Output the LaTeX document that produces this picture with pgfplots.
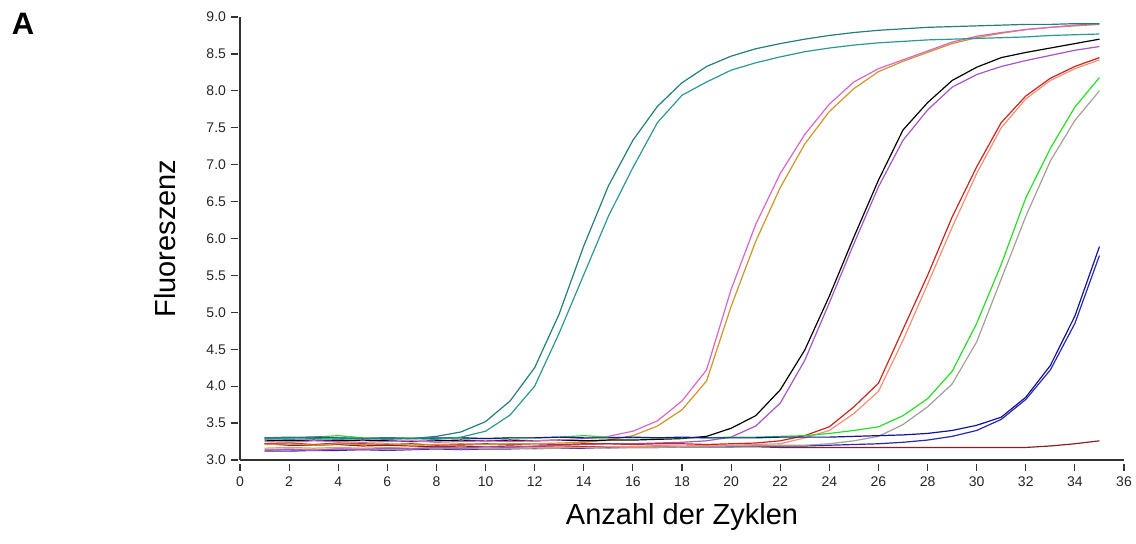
\documentclass[border=0pt]{standalone}
\usepackage{fontspec}
\setmainfont{Liberation Sans}
\usepackage{pgfplots}
\usepackage{pgfplotstable}
\pgfplotsset{compat=1.18}
\definecolor{tealA}{RGB}{38,125,125}
\definecolor{tealB}{RGB}{45,150,150}
\definecolor{pinkC}{RGB}{220,100,200}
\definecolor{orangeC}{RGB}{205,150,40}
\definecolor{purpleC}{RGB}{165,85,200}
\definecolor{redC}{RGB}{205,35,30}
\definecolor{salmonC}{RGB}{240,145,120}
\definecolor{greenC}{RGB}{40,220,40}
\definecolor{grayC}{RGB}{165,160,150}
\definecolor{navyC}{RGB}{20,20,150}
\definecolor{blueC}{RGB}{40,40,175}
\definecolor{maroonC}{RGB}{130,35,35}
\pgfplotstableread{
c  T1   T2   P    O    K    Pu   R    S    G    Gy   B1   B2   M
1  3.30 3.29 3.25 3.21 3.27 3.13 3.22 3.16 3.29 3.14 3.30 3.12 3.22
2  3.31 3.28 3.24 3.22 3.26 3.14 3.23 3.17 3.30 3.15 3.30 3.12 3.20
3  3.30 3.29 3.26 3.20 3.27 3.13 3.21 3.16 3.31 3.14 3.31 3.13 3.20
4  3.30 3.28 3.25 3.22 3.26 3.15 3.23 3.17 3.33 3.15 3.30 3.13 3.21
5  3.29 3.29 3.24 3.21 3.27 3.14 3.22 3.16 3.30 3.15 3.29 3.14 3.19
6  3.30 3.28 3.25 3.22 3.26 3.16 3.21 3.17 3.29 3.14 3.30 3.13 3.20
7  3.29 3.29 3.26 3.20 3.25 3.15 3.22 3.16 3.30 3.15 3.29 3.14 3.19
8  3.32 3.28 3.24 3.21 3.26 3.17 3.20 3.17 3.29 3.16 3.30 3.15 3.18
9  3.38 3.31 3.25 3.22 3.27 3.16 3.21 3.17 3.30 3.15 3.30 3.14 3.19
10 3.52 3.39 3.26 3.21 3.26 3.18 3.22 3.16 3.29 3.16 3.29 3.15 3.18
11 3.80 3.61 3.25 3.22 3.27 3.17 3.21 3.17 3.30 3.16 3.30 3.15 3.19
12 4.25 4.00 3.26 3.22 3.26 3.19 3.22 3.17 3.30 3.15 3.30 3.16 3.18
13 4.98 4.72 3.27 3.23 3.27 3.20 3.21 3.18 3.31 3.16 3.31 3.16 3.19
14 5.90 5.51 3.29 3.24 3.26 3.21 3.22 3.17 3.33 3.17 3.30 3.16 3.18
15 6.71 6.30 3.32 3.27 3.27 3.22 3.22 3.18 3.31 3.16 3.30 3.17 3.18
16 7.33 6.96 3.39 3.33 3.27 3.22 3.21 3.18 3.30 3.17 3.31 3.17 3.18
17 7.79 7.57 3.53 3.46 3.28 3.23 3.22 3.19 3.30 3.17 3.30 3.17 3.19
18 8.11 7.94 3.80 3.68 3.29 3.24 3.22 3.19 3.30 3.18 3.31 3.18 3.18
19 8.33 8.12 4.22 4.07 3.32 3.26 3.21 3.20 3.30 3.18 3.30 3.18 3.18
20 8.47 8.28 5.31 5.08 3.43 3.31 3.22 3.20 3.31 3.19 3.30 3.18 3.18
21 8.57 8.38 6.19 5.96 3.60 3.46 3.23 3.21 3.31 3.19 3.30 3.19 3.18
22 8.64 8.46 6.88 6.69 3.95 3.77 3.26 3.22 3.32 3.20 3.31 3.19 3.17
23 8.70 8.53 7.41 7.28 4.49 4.35 3.33 3.30 3.33 3.20 3.31 3.19 3.17
24 8.75 8.58 7.82 7.72 5.22 5.13 3.45 3.40 3.36 3.22 3.31 3.20 3.17
25 8.79 8.62 8.12 8.03 6.02 5.93 3.72 3.63 3.40 3.26 3.32 3.21 3.17
26 8.82 8.65 8.30 8.26 6.79 6.70 4.04 3.93 3.45 3.32 3.33 3.22 3.17
27 8.84 8.67 8.42 8.40 7.47 7.33 4.77 4.62 3.60 3.48 3.34 3.24 3.17
28 8.86 8.69 8.54 8.52 7.84 7.74 5.50 5.38 3.83 3.72 3.36 3.27 3.17
29 8.87 8.70 8.66 8.64 8.14 8.05 6.29 6.15 4.20 4.03 3.40 3.32 3.17
30 8.88 8.71 8.74 8.72 8.32 8.22 6.97 6.88 4.85 4.60 3.47 3.40 3.17
31 8.89 8.72 8.79 8.78 8.45 8.33 7.57 7.50 5.65 5.45 3.58 3.55 3.17
32 8.90 8.73 8.83 8.83 8.52 8.41 7.93 7.89 6.55 6.30 3.85 3.82 3.17
33 8.90 8.75 8.86 8.86 8.58 8.48 8.17 8.14 7.22 7.05 4.28 4.22 3.19
34 8.91 8.76 8.89 8.88 8.64 8.55 8.33 8.30 7.78 7.60 4.95 4.85 3.22
35 8.91 8.77 8.91 8.90 8.70 8.60 8.45 8.42 8.18 8.00 5.89 5.77 3.26
}\qpcr
\begin{document}
\begin{tikzpicture}
\path[use as bounding box] (0,0) rectangle (568pt,271.5pt);
\node[font=\bfseries\fontsize{15.5}{18}\selectfont, anchor=center] at (11.5pt,259.5pt) {A};
\begin{axis}[
  at={(120pt,41.5pt)}, anchor=south west,
  scale only axis, width=442pt, height=221.5pt,
  xmin=0, xmax=36, ymin=3, ymax=9,
  axis lines=left,
  axis line style={-, black!80, line width=0.7pt},
  xtick={0,2,...,36}, ytick={3,3.5,...,9},
  tick align=outside, major tick length=3.5pt,
  tick style={black!80, line width=0.6pt},
  xtick style={yshift=-2pt},
  ytick style={xshift=-1.2pt},
  ticklabel style={font=\fontsize{7}{8}\selectfont, text=black!85},
  /pgf/number format/assume math mode=true,
  yticklabel style={/pgf/number format/.cd, fixed, fixed zerofill, precision=1},
  xticklabel style={yshift=-1.5pt, /pgf/number format/.cd, fixed, precision=0},
  xlabel={Anzahl der Zyklen}, ylabel={Fluoreszenz},
  label style={font=\fontsize{14.5}{17}\selectfont},
  xlabel style={at={(axis description cs:0.5,-0.128)}, anchor=center},
  ylabel style={at={(axis description cs:-0.085,0.5)}, anchor=center},
  every axis plot/.append style={line width=0.6pt, mark=none},
]
\addplot[maroonC] table[x=c,y=M] {\qpcr};
\addplot[blueC] table[x=c,y=B2] {\qpcr};
\addplot[grayC] table[x=c,y=Gy] {\qpcr};
\addplot[salmonC] table[x=c,y=S] {\qpcr};
\addplot[purpleC] table[x=c,y=Pu] {\qpcr};
\addplot[redC] table[x=c,y=R] {\qpcr};
\addplot[orangeC] table[x=c,y=O] {\qpcr};
\addplot[black] table[x=c,y=K] {\qpcr};
\addplot[pinkC] table[x=c,y=P] {\qpcr};
\addplot[greenC] table[x=c,y=G] {\qpcr};
\addplot[navyC] table[x=c,y=B1] {\qpcr};
\addplot[tealB] table[x=c,y=T2] {\qpcr};
\addplot[tealA] table[x=c,y=T1] {\qpcr};
\end{axis}
\end{tikzpicture}
\end{document}
